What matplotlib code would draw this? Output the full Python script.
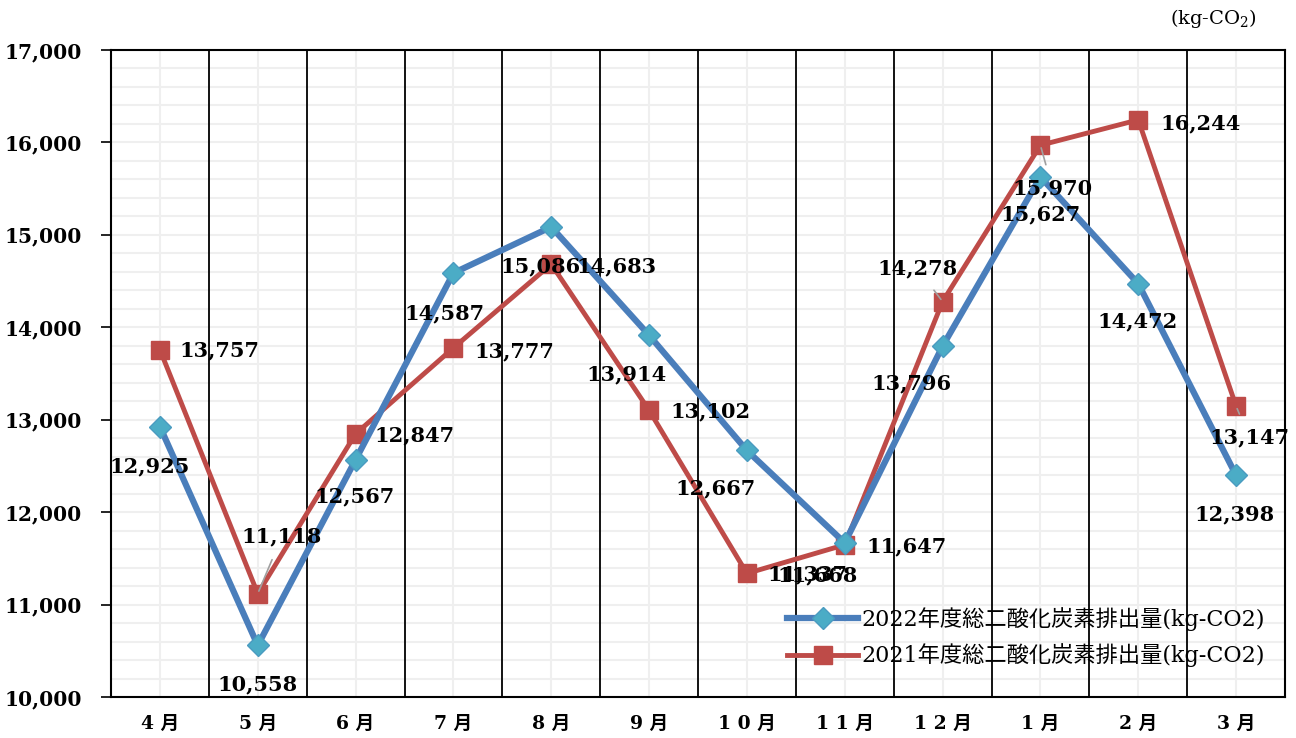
import numpy as np
import matplotlib as mpl
import matplotlib.pyplot as plt
from matplotlib.ticker import MultipleLocator, FuncFormatter

plt.rcParams['font.family'] = ['DejaVu Serif', 'Noto Sans CJK JP']
plt.rcParams['mathtext.fontset'] = 'dejavuserif'

####################### data ######################
months = ['4 月', '5 月', '6 月', '7 月', '8 月', '9 月', '1 0 月', '1 1 月', '1 2 月', '1 月', '2 月', '3 月']
co2_2022 = [12925, 10558, 12567, 14587, 15086, 13914, 12667, 11668, 13796, 15627, 14472, 12398]
co2_2021 = [13757, 11118, 12847, 13777, 14683, 13102, 11337, 11647, 14278, 15970, 16244, 13147]
label_2022 = '2022年度総二酸化炭素排出量(kg-CO2)'
label_2021 = '2021年度総二酸化炭素排出量(kg-CO2)'

# label offsets in pixels (dx, dy), and whether a leader line is drawn
offs_2022 = [(-10, -40), (0, -39), (-1, -37), (-9, -40), (-11, -39), (-23, -39),
             (-31, -38), (-27, -33), (-31, -37), (0, -37), (-1, -38), (-2, -39)]
offs_2021 = [(60, -1), (24, 57), (59, -2), (61, -3), (65, -2), (61, -1),
             (61, -1), (62, -2), (-25, 33), (12, -43), (62, -3), (13, -31)]
leader_2021 = [False, True, False, False, False, False,
               False, False, True, True, False, True]

BLUE = '#4A7EBB'
AQUA = '#4BACC6'
RED = '#BE4B48'
FONTSIZE = 15

fig = plt.figure(figsize=(12.96, 7.38), dpi=100)
ax = fig.add_axes([111/1296, 41/738, 1174/1296, 647/738])

x = np.arange(len(months))

# category boundaries
for b in x[:-1] + 0.5:
    ax.axvline(b, color='black', linewidth=1.3, zorder=1.5)

ax.plot(x, co2_2022, color=BLUE, linewidth=4.5, marker='D', markersize=11,
        markerfacecolor=AQUA, markeredgecolor='#4A9BC0', markeredgewidth=1,
        label=label_2022, zorder=4)
ax.plot(x, co2_2021, color=RED, linewidth=3.5, marker='s', markersize=13,
        markerfacecolor=RED, markeredgecolor=RED, label=label_2021, zorder=3)

for i, v in enumerate(co2_2022):
    ax.annotate(f'{v:,}', (x[i], v), xytext=offs_2022[i], textcoords='offset pixels',
                ha='center', va='center', fontsize=FONTSIZE, fontweight='bold', zorder=6)
for i, v in enumerate(co2_2021):
    arrow = dict(arrowstyle='-', color='#A0A0A0', lw=1.2, shrinkA=8, shrinkB=2) if leader_2021[i] else None
    ax.annotate(f'{v:,}', (x[i], v), xytext=offs_2021[i], textcoords='offset pixels',
                ha='center', va='center', fontsize=FONTSIZE, fontweight='bold', zorder=6,
                arrowprops=arrow)

# Format Figure
ax.set_xlim(-0.5, len(months) - 0.5)
ax.set_ylim(10000, 17000)
ax.yaxis.set_major_locator(MultipleLocator(1000))
ax.yaxis.set_minor_locator(MultipleLocator(200))
ax.yaxis.set_major_formatter(FuncFormatter(lambda v, p: f'{int(v):,}'))
ax.set_xticks(x)
ax.set_xticklabels(months, fontweight='bold', fontsize=13.5)
ax.tick_params(axis='x', which='both', length=0, pad=13)
ax.tick_params(axis='y', which='major', length=7, width=1.2, labelsize=14.5, pad=14)
ax.tick_params(axis='y', which='minor', length=0)
for lab in ax.get_yticklabels():
    lab.set_fontweight('bold')

ax.grid(which='major', axis='x', color='#EFEFEF', linewidth=1.5, zorder=0)
ax.grid(which='both', axis='y', color='#EFEFEF', linewidth=1.5, zorder=0)
ax.set_axisbelow(True)
for sp in ax.spines.values():
    sp.set_linewidth(1.5)
    sp.set_color('black')
    sp.set_zorder(5)

ax.legend(loc='lower right', bbox_to_anchor=(1.0, 0.015), frameon=False,
          fontsize=16, handlelength=3.2, handletextpad=0.15, labelspacing=0.55)

fig.text(1213/1296, 1 - 18/738, '(kg-CO$_2$)', ha='center', va='center', fontsize=14)

fig.savefig('out.png', dpi=100)
